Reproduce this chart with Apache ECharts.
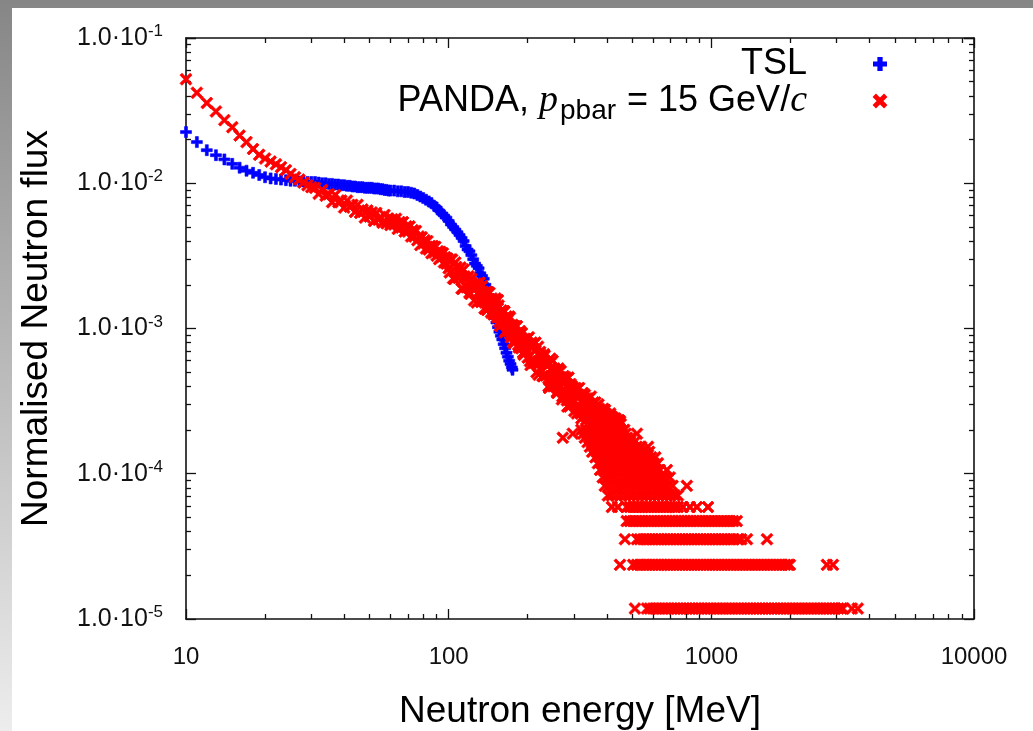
<!DOCTYPE html>
<html><head><meta charset="utf-8">
<script src="https://cdn.jsdelivr.net/npm/echarts@6/dist/echarts.min.js"></script>
<style>html,body{margin:0;padding:0;background:#fff;}#c{width:1033px;height:731px;}</style>
</head><body><div id="c"></div>
<script>
// ---------------- data ----------------
const xTickLabels = ['10', '100', '1000', '10000'];
const yTickExponents = [-5, -4, -3, -2, -1];
const seriesNames = ['TSL', 'PANDA'];

// TSL: [energy MeV, normalised flux]
const tslPoints = [
 [10,0.0225],[11,0.0192],[12,0.0169],[13,0.0156],[14,0.0146],[15,0.0136],[16,0.0128],[17,0.0122],[18,0.0118],[19,0.0114],
 [20,0.0110],[21,0.0108],[22,0.0107],[23,0.0106],[24,0.0105],[25,0.0104],[26,0.0104],[27,0.0103],[28,0.0103],[29,0.0102],
 [30,0.0102],[31,0.0102],[32,0.0101],[33,0.0100],[34,0.0100],[35,0.0099],[36,0.0099],[37,0.0098],[38,0.0098],[39,0.0097],
 [40,0.0097],[41,0.0096],[42,0.0096],[43,0.0095],[44,0.0095],[45,0.0094],[46,0.0094],[47,0.0094],[48,0.0093],[49,0.0093],
 [50,0.0093],[51,0.0093],[52,0.0092],[53,0.0092],[54,0.0092],[55,0.0091],[56,0.0091],[57,0.0090],[58,0.0090],[59,0.0089],
 [60,0.0089],[62,0.0089],[64,0.0088],[66,0.0088],[68,0.0087],[70,0.0087],[72,0.0086],[74,0.0085],[76,0.0083],[78,0.0081],
 [80,0.0079],[82,0.0077],[84,0.0075],[86,0.0073],[88,0.0070],[90,0.0068],[92,0.0065],[94,0.0062],[96,0.0060],[98,0.0058],
 [100,0.0055],[102,0.0052],[104,0.0050],[106,0.0048],[108,0.0046],[110,0.0044],[112,0.0042],[114,0.0040],[116,0.0037],[118,0.0035],
 [120,0.0034],[122,0.0032],[124,0.0030],[126,0.0028],[128,0.0027],[130,0.0026],[132,0.0024],[134,0.0023],[136,0.0022],[138,0.0020],
 [140,0.0019],[142,0.0017],[144,0.0016],[146,0.0014],[148,0.00128],[150,0.00118],[152,0.00110],[154,0.00102],[156,0.00095],[158,0.00089],
 [160,0.00084],[162,0.00078],[164,0.00073],[166,0.00068],[168,0.00064],[170,0.00060],[172,0.00057],[174,0.00054],[175,0.00052]
];

// PANDA, continuous part: [energy MeV, normalised flux]
const pandaPoints = [
 [10,0.052],[11,0.042],[12,0.0357],[13,0.0312],[14,0.0272],[15,0.0243],[16,0.0213],[17,0.0192],[18,0.0172],[19,0.0157],
 [20,0.0148],[21,0.0141],[22,0.0135],[23,0.0129],[24,0.0123],[25,0.0116],[26,0.0110],[27,0.0106],[28,0.0101],[29,0.0097],[30,0.0094],
 [31,0.0093],[32,0.00845],[33,0.0090],[34,0.0082],[35,0.0084],[36,0.0074],[37,0.0083],[38,0.0074],[39,0.0076],[40,0.0068],
 [41,0.0076],[42,0.0069],[43,0.0071],[44,0.00635],[45,0.0071],[46,0.00625],[47,0.0066],[48,0.0058],[49,0.0065],[50,0.0059],
 [51,0.0063],[52,0.0055],[53,0.00625],[54,0.0056],[55,0.00585],[56,0.00535],[57,0.00605],[58,0.0053],[59,0.0057],[60,0.00515],
 [61,0.00565],[62,0.0052],[63,0.0057],[64,0.00485],[65,0.0054],[66,0.00495],[67,0.0054],[68,0.00465],[69,0.00505],[70,0.00465],
 [71,0.00505],[72,0.0043],[73,0.00475],[74,0.0043],[75,0.0047],[76,0.00405],[77,0.0043],[78,0.00375],[79,0.00425],[80,0.00385],
 [81,0.00405],[82,0.00355],[83,0.0040],[84,0.0035],[85,0.0037],[86,0.0033],[87,0.0037],[88,0.00333],[89,0.00365],[90,0.00317],
 [91,0.0034],[92,0.0030],[93,0.00337],[94,0.0031],[95,0.0033],[96,0.00285],[97,0.0031],[98,0.0028],[99,0.00303],[100,0.0026],
 [101,0.00243],[102,0.00298],[103,0.00298],[104,0.00221],[105,0.00219],[106,0.00285],[107,0.00265],[108,0.00227],[109,0.00223],[110,0.00239],
 [111,0.00263],[112,0.00188],[113,0.00188],[114,0.00255],[115,0.00228],[116,0.00197],[117,0.00192],[118,0.00222],[119,0.00229],[120,0.00176],
 [121,0.00173],[122,0.00220],[123,0.00199],[124,0.00187],[125,0.00156],[126,0.00195],[127,0.00204],[128,0.00151],[129,0.00175],[130,0.00195],
 [131,0.00207],[132,0.00156],[133,0.00152],[134,0.00196],[135,0.00179],[136,0.00155],[137,0.00137],[138,0.00164],[139,0.00179],[140,0.00134],
 [141,0.00147],[142,0.00177],[143,0.00176],[144,0.00147],[145,0.00129],[146,0.00161],[147,0.00153],[148,0.00125],[149,0.00129],[150,0.00148],
 [151,0.00161],[152,0.00125],[153,0.00119],[154,0.00157],[155,0.00144],[156,0.00111],[157,0.00104],[158,0.00129],[159,0.00133],[160,0.00117],
 [161,0.00115],[162,0.00132],[163,0.00131],[164,0.00094],[165,0.00096],[166,0.00121],[167,0.00114],[168,0.00104],[169,0.00096],[170,0.00121],
 [171,0.00119],[172,0.00091],[173,0.00087],[174,0.00103],[175,0.00106],[176,0.00081],[177,0.00079],[178,0.00104],[179,0.00103],[180,0.00085],
 [181,0.00084],[182,0.00104],[183,0.00093],[184,0.00077],[185,0.00074],[186,0.00086],[187,0.00096],[188,0.00076],[189,0.00073],[190,0.00093],
 [191,0.00083],[192,0.00068],[193,0.00066],[194,0.00083],[195,0.00085],[196,0.00074],[197,0.00069],[198,0.00084],[199,0.00078],[200,0.00063],
 [202,0.00087],[204,0.000595],[205,0.00056],[207,0.00080],[208,0.00074],[210,0.00061],[211,0.00058],[213,0.00070],[214,0.00080],[216,0.00050],
 [217,0.00058],[219,0.00075],[220,0.00048],[222,0.00058],[223,0.00069],[225,0.000655],[226,0.00059],[228,0.00047],[229,0.00047],[231,0.000665],
 [232,0.00065],[234,0.000475],[235,0.00048],[237,0.00055],[238,0.00056],[240,0.00040],[241,0.00039],[243,0.000575],[244,0.00062],[246,0.000445],
 [247,0.00047],[249,0.00060],[250,0.00040],[252,0.000405],[253,0.00053],[255,0.00051],[256,0.00046],[258,0.000365],[259,0.00036],[261,0.00052],
 [262,0.00053],[264,0.000405],[265,0.00039],[267,0.00051],[268,0.00046],[270,0.000325],[271,0.00034],[273,0.00043],[274,0.00047],[276,0.000365],
 [277,0.00034],[279,0.00046],[280,0.00040],[282,0.00032],[283,0.00029],[285,0.000405],[286,0.00046],[288,0.00029],[289,0.00034],[291,0.000415],
 [292,0.00030],[294,0.000315],[295,0.00040],[297,0.00039],[298,0.00035],[300,0.00032],[301,0.00027],
 [304,0.00039],[306,0.00034],[308,0.00026],[310,0.00028],[312,0.00035],[314,0.00039],[316,0.00029],[318,0.00026],[320,0.00024],[322,0.00032],
 [324,0.00036],[326,0.00025],[328,0.00030],[330,0.00035],[332,0.00025],[334,0.000235],[336,0.00033],[338,0.00030],[340,0.00028],[342,0.00033],
 [344,0.00022],[346,0.00024],[348,0.00034],[350,0.00029],[352,0.00027],[354,0.00022],[356,0.00031],[358,0.00027],[360,0.00023],[362,0.00031],
 [364,0.00029],[366,0.000225],[368,0.00025],[370,0.00026],[372,0.00030],[374,0.00028],[376,0.00022],[378,0.000245],[380,0.00027],[382,0.00022],
 [384,0.00024],[386,0.000265],[388,0.00028],[390,0.00024],[392,0.00023],[394,0.000275],[396,0.00026],[398,0.00023],[400,0.000215],[402,0.000245],
 [404,0.00025],[406,0.00022],[408,0.00023],[410,0.000235],[412,0.00026],[414,0.00025],[416,0.00022],[418,0.00023],[420,0.000245],[422,0.00022],
 [424,0.00023],[426,0.00024],[428,0.000215],[430,0.000225],[432,0.00024],[434,0.000215],[436,0.00022],[438,0.00023],[440,0.00023],[442,0.00022],
 [445,0.000234],[450,0.00023],[452,0.00022]
];

// PANDA, low-count part: flux of each count level and the energies where it occurs
const pandaLevelFlux = [1.18e-5, 2.36e-5, 3.54e-5, 4.72e-5, 5.90e-5, 7.08e-5, 8.26e-5, 9.44e-5,
  1.062e-4, 1.18e-4, 1.298e-4, 1.416e-4, 1.534e-4, 1.652e-4, 1.770e-4, 1.888e-4, 2.006e-4];
const pandaLevelEnergy = [
 [512,569,584,600,616,632,650,667,685,704,723,742,762,783,804,826,848,871,895,919,944,969,995,1022,1050,1078,1107,1137,1168,1199,1232,1265,1299,1334,1370,1407,1445,1484,1524,1565,1608,1651,1696,1741,1788,1837,1886,1937,1990,2043,2098,2155,2213,2273,2334,2397,2462,2528,2597,2667,2739,2813,2889,2967,3047,3129,3170,3430,3610],
 [449,504,521,535,550,565,580,596,612,628,645,662,680,698,717,736,756,776,797,818,840,863,886,910,934,959,985,1012,1039,1067,1096,1125,1155,1186,1218,1251,1285,1319,1355,1391,1428,1467,1506,1547,1588,1631,1675,1720,1766,1814,1862,1912,1960,1991,2754,2904],
 [469,521,535,550,565,580,596,612,628,645,662,680,698,717,736,756,776,797,818,840,863,886,910,934,959,985,1012,1039,1067,1096,1125,1155,1186,1218,1260,1300,1367,1629],
 [476,490,503,517,531,545,560,575,590,606,622,639,656,674,692,711,730,750,770,791,812,834,857,880,903,928,953,979,1005,1032,1060,1089,1118,1148,1180,1212,1250],
 [418,441,476,490,503,517,531,545,560,575,590,606,622,639,656,674,692,711,730,746,780,829,881,971],
 [404,418,435,452,470,488,506,525,545,565,586,608,630,653,676,700,725,746],
 [393,408,424,440,457,474,492,511,530,550,571,592,614,637,660,684,712,807],
 [386,400,415,431,447,464,481,499,518,537,557,578,600,622,645,669,695],
 [377,392,407,423,440,457,475,493,512,531,551,572,593,615,637,677],
 [370,384,399,415,431,448,465,483,501,520,540,560,581,603,626],
 [362,376,391,406,422,438,455,472,490,509,528,548,569,590,612],
 [352,366,380,395,410,426,442,459,476,494,513,532,552,580],
 [345,358,372,386,401,416,432,448,465,483,501,520,540,574],
 [338,351,364,378,392,407,422,438,455,472,490,510],
 [272,330,343,356,370,384,398,413,428,444,461,478,496],
 [297,325,338,351,364,378,392,407,422,438,455,472,521],
 [320,333,346,360,374,388,403,418,434,450,466]
];

// ---------------- chart ----------------
const pandaData = pandaPoints.slice();
pandaLevelEnergy.forEach(function (row, i) {
  row.forEach(function (e) { pandaData.push([e, pandaLevelFlux[i]]); });
});

const FONT = '"Liberation Sans", Arial, Helvetica, sans-serif';
const PLUS = 'path://M3.65,0H6.35V3.65H10V6.35H6.35V10H3.65V6.35H0V3.65H3.65Z';
const CROSS = 'path://M0,1.6L1.6,0L5,3.4L8.4,0L10,1.6L6.6,5L10,8.4L8.4,10L5,6.6L1.6,10L0,8.4L3.4,5Z';

function xLabel(v) {
  const i = Math.round(Math.log10(v)) - 1;
  return xTickLabels[i] !== undefined ? xTickLabels[i] : '';
}
function yLabel(v) {
  const e = Math.round(Math.log10(v));
  return yTickExponents.indexOf(e) >= 0 ? '{m|1.0·10}{sup|' + e + '}' : '';
}

const axisLineStyle = { show: true, lineStyle: { color: '#111', width: 1.6 } };
const tickStyle = { show: true, inside: true, length: 10, lineStyle: { color: '#111', width: 1.3 } };
const minorStyle = { show: true, splitNumber: 9, length: 5, lineStyle: { color: '#111', width: 1.3 } };

const chart = echarts.init(document.getElementById('c'), null, { renderer: 'canvas' });
chart.setOption({
  animation: false,
  backgroundColor: '#ffffff',
  graphic: [
    { type: 'rect', z: -100, silent: true, shape: { x: 0, y: 0, width: 1033, height: 731 },
      style: { fill: new echarts.graphic.LinearGradient(0, 0, 0, 1, [
        { offset: 0, color: '#868686' }, { offset: 1, color: '#ededed' }]) } },
    { type: 'rect', z: -99, silent: true, shape: { x: 12, y: 8, width: 1021, height: 723 },
      style: { fill: '#ffffff' } }
  ],
  grid: { left: 186, top: 38, right: 59, bottom: 112, containLabel: false, outerBoundsMode: 'none' },
  legend: {
    orient: 'vertical', align: 'right', right: 146, top: 46, padding: 0, itemGap: 0,
    itemWidth: 12, itemHeight: 12, selectedMode: false,
    data: seriesNames,
    formatter: function (name) {
      if (name === 'PANDA') return '{t|PANDA, }{it|p}{sub|pbar}{t| = 15 GeV/}{it|c}{sp| }';
      return '{t|TSL}{sp| }';
    },
    textStyle: {
      color: '#000', fontFamily: FONT, fontSize: 36,
      rich: {
        t: { fontFamily: FONT, fontSize: 36, lineHeight: 36, color: '#000' },
        it: { fontFamily: '"Liberation Serif", "DejaVu Serif", serif', fontStyle: 'italic', fontSize: 38, lineHeight: 36, color: '#000' },
        sub: { fontFamily: FONT, fontSize: 28, lineHeight: 28, verticalAlign: 'bottom', padding: [0, 1, -6, 2], color: '#000' },
        sp: { width: 62, fontSize: 36, lineHeight: 36 }
      }
    }
  },
  xAxis: [
    { type: 'log', logBase: 10, min: 10, max: 10000, splitNumber: 3, position: 'bottom',
      name: 'Neutron energy [MeV]', nameLocation: 'middle', nameGap: 74,
      nameTextStyle: { fontFamily: FONT, fontSize: 37, color: '#000' },
      axisLine: axisLineStyle, axisTick: tickStyle, minorTick: minorStyle, splitLine: { show: false },
      axisLabel: { show: true, margin: 26, formatter: xLabel, fontFamily: FONT, fontSize: 24, color: '#111' } },
    { type: 'log', logBase: 10, min: 10, max: 10000, splitNumber: 3, position: 'top',
      axisLine: axisLineStyle, axisTick: tickStyle, minorTick: minorStyle, splitLine: { show: false },
      axisLabel: { show: false } }
  ],
  yAxis: [
    { type: 'log', logBase: 10, min: 1e-5, max: 0.1, splitNumber: 4, position: 'left',
      name: 'Normalised Neutron flux', nameLocation: 'middle', nameGap: 131, nameRotate: 90,
      nameTextStyle: { fontFamily: FONT, fontSize: 37, color: '#000' },
      axisLine: axisLineStyle, axisTick: tickStyle, minorTick: minorStyle, splitLine: { show: false },
      axisLabel: { show: true, margin: 23, formatter: yLabel, fontFamily: FONT, color: '#111',
        rich: {
          m: { fontFamily: FONT, fontSize: 25, lineHeight: 30, color: '#111' },
          sup: { fontFamily: FONT, fontSize: 17, lineHeight: 17, verticalAlign: 'top', color: '#111' }
        } } },
    { type: 'log', logBase: 10, min: 1e-5, max: 0.1, splitNumber: 4, position: 'right',
      axisLine: axisLineStyle, axisTick: tickStyle, minorTick: minorStyle, splitLine: { show: false },
      axisLabel: { show: false } }
  ],
  series: [
    { name: 'TSL', type: 'scatter', xAxisIndex: 0, yAxisIndex: 0, data: tslPoints,
      symbol: PLUS, symbolSize: 11,
      itemStyle: { color: '#0000ff', borderColor: '#0000ff', borderWidth: 0.6, opacity: 1 }, clip: false },
    { name: 'PANDA', type: 'scatter', xAxisIndex: 0, yAxisIndex: 0, data: pandaData,
      symbol: CROSS, symbolSize: 12,
      itemStyle: { color: '#ff0000', borderColor: '#ff0000', borderWidth: 0.8, opacity: 1 }, clip: false, large: false }
  ]
});
</script></body></html>
